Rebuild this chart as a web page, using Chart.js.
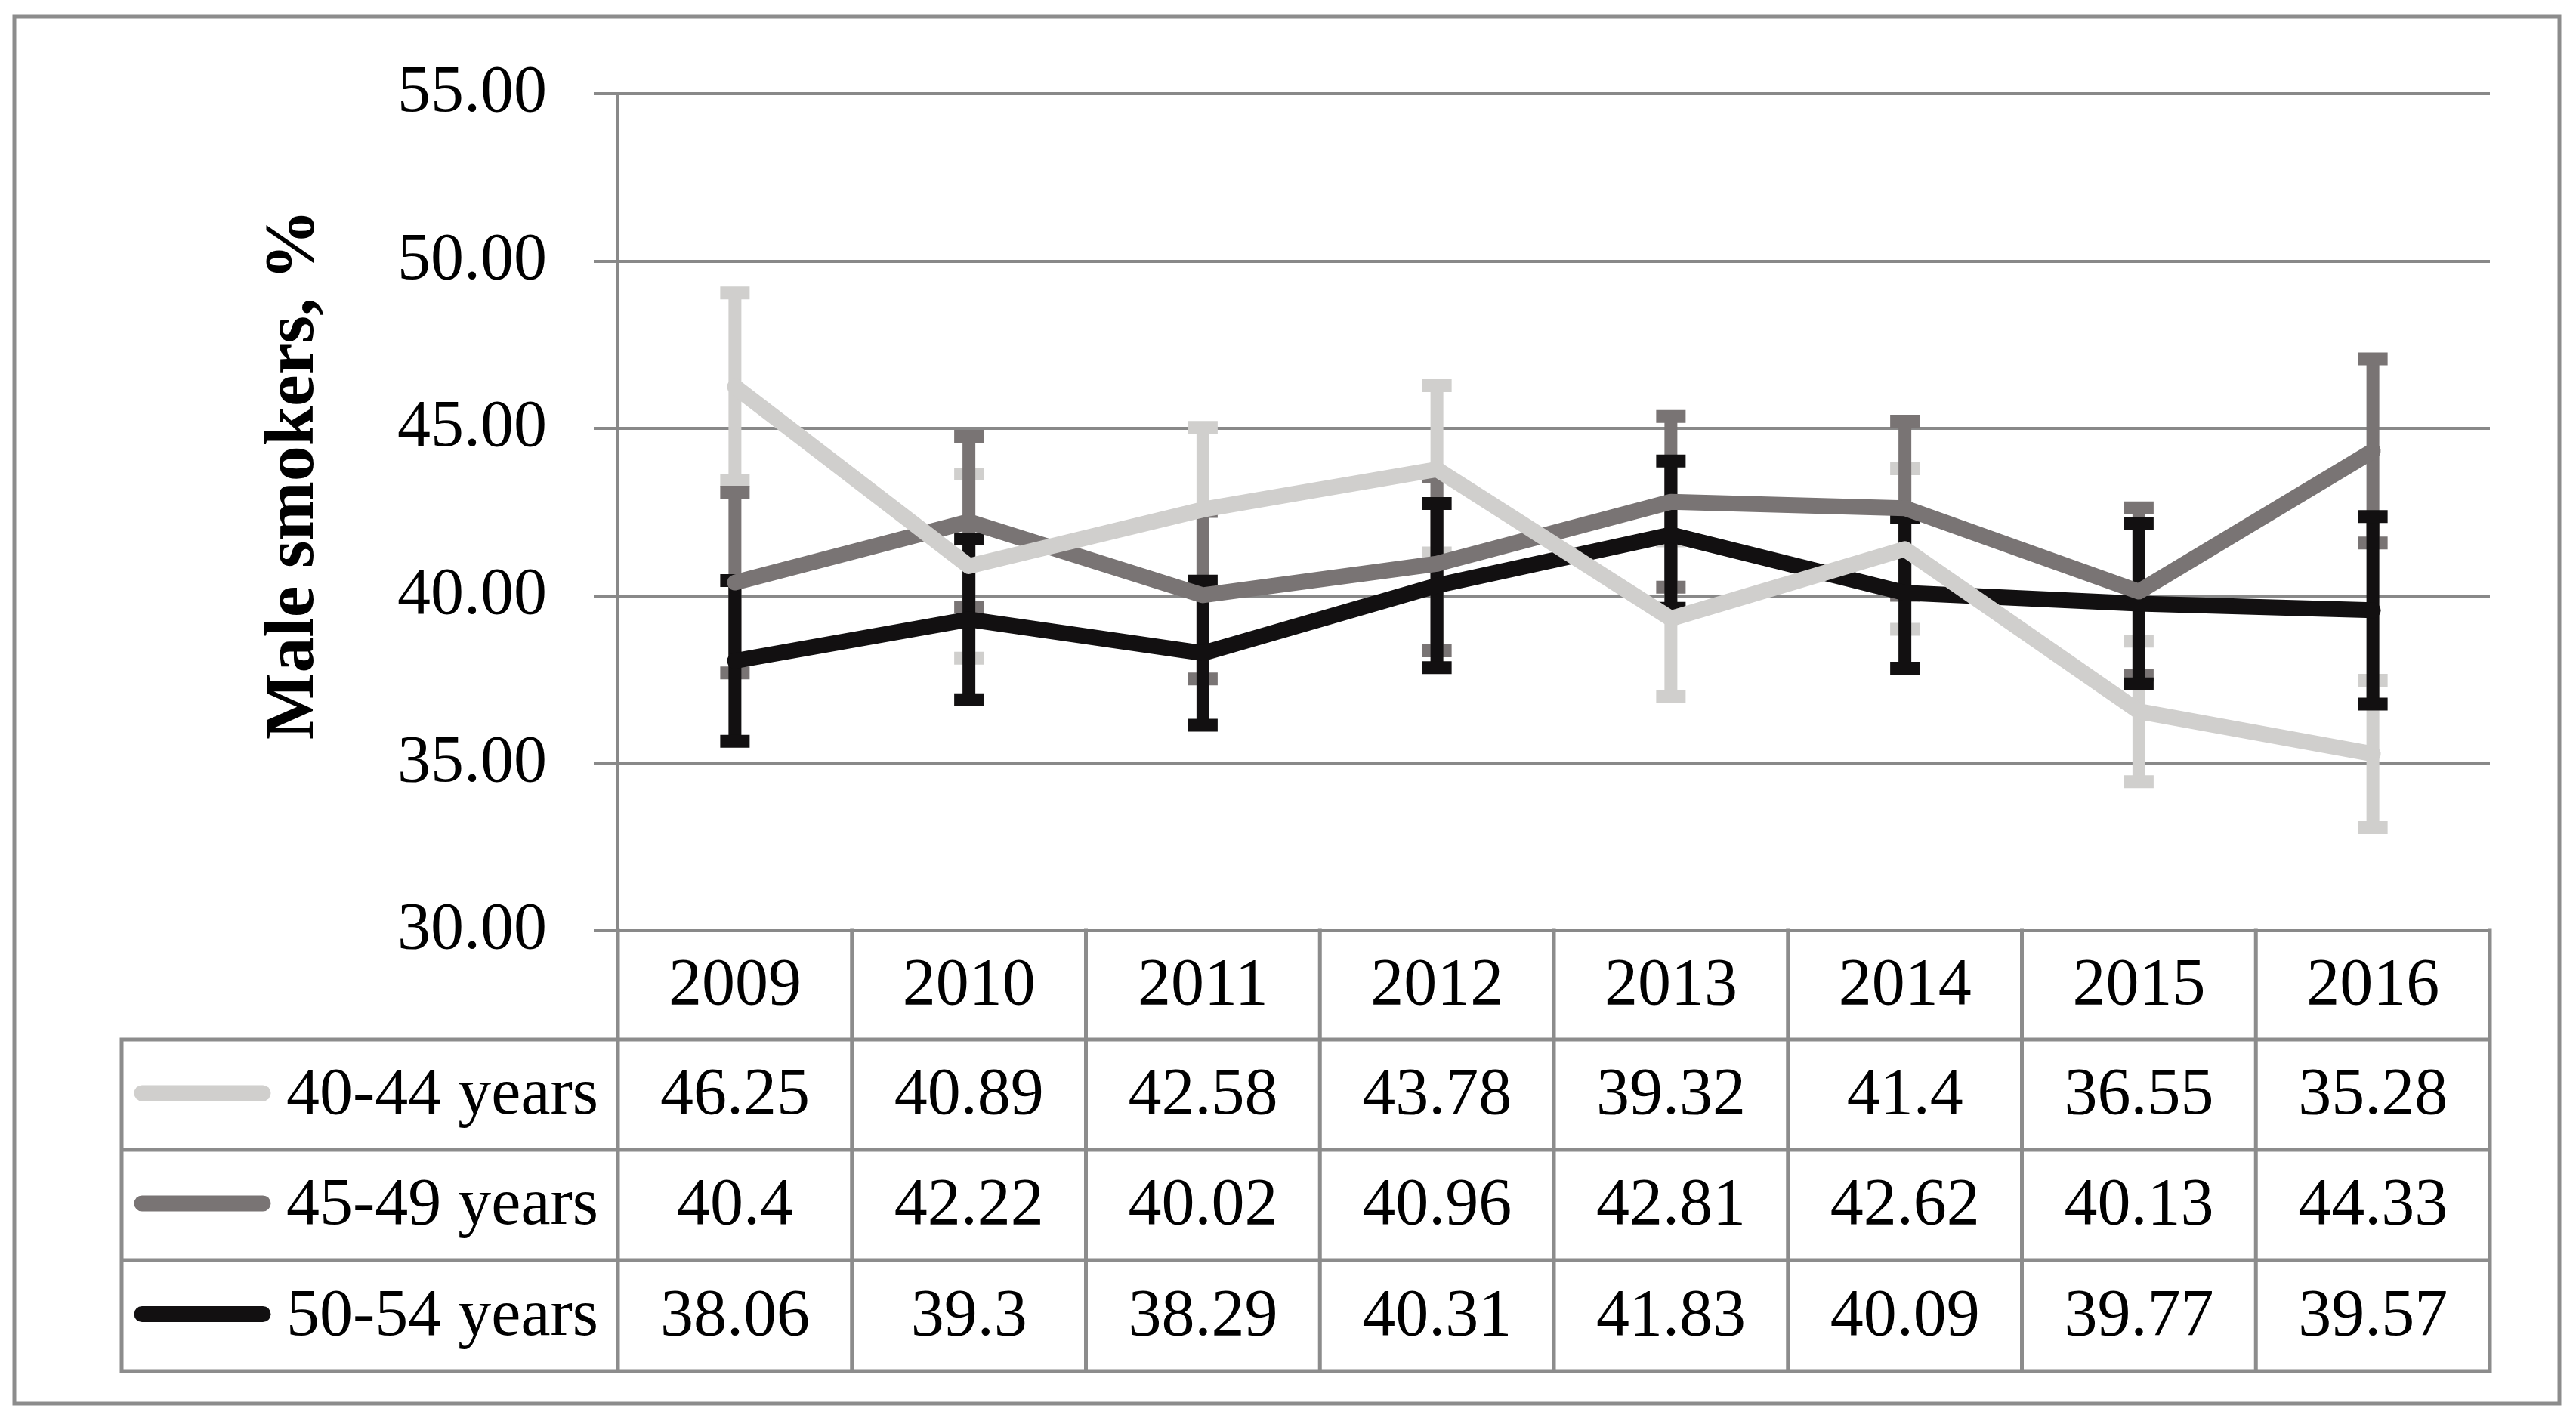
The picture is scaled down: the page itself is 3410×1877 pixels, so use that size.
<!DOCTYPE html>
<html>
<head>
<meta charset="utf-8">
<script src="https://cdn.jsdelivr.net/npm/chart.js@4/dist/chart.umd.min.js"></script>
<style>
  html, body { margin: 0; padding: 0; background: #ffffff; }
  #wrap { width: 3410px; height: 1877px; }
</style>
</head>
<body>
<div id="wrap"><canvas id="c" width="3410" height="1877"></canvas></div>
<script>
// ---- data ----
const years = ['2009', '2010', '2011', '2012', '2013', '2014', '2015', '2016'];
const seriesNames = ['40-44 years', '45-49 years', '50-54 years'];
const age4044 = [46.25, 40.89, 42.58, 43.78, 39.32, 41.4, 36.55, 35.28];
const age4549 = [40.4, 42.22, 40.02, 40.96, 42.81, 42.62, 40.13, 44.33];
const age5054 = [38.06, 39.3, 38.29, 40.31, 41.83, 40.09, 39.77, 39.57];
const err4044 = [2.8, 2.75, 2.45, 2.5, 2.32, 2.4, 2.1, 2.2];
const err4549 = [2.7, 2.55, 2.5, 2.6, 2.55, 2.6, 2.5, 2.75];
const err5054 = [2.4, 2.4, 2.15, 2.45, 2.2, 2.25, 2.4, 2.8];
const yTicks = [30, 35, 40, 45, 50, 55];
const yTitle = 'Male smokers, %';

// ---- styles ----
const colors = ['#d0cfcd', '#797474', '#121011'];
const gridColor = '#898989';
const tableLine = '#8c8c8c';
const serif = '"Liberation Serif", "Times New Roman", serif';

const errorBarPlugin = {
  id: 'errorBars',
  beforeDatasetsDraw(chart) {
    const ctx = chart.ctx;
    const xs = chart.scales.x, ys = chart.scales.y;
    ctx.save();
    chart.data.datasets.forEach((ds) => {
      ctx.strokeStyle = ds.borderColor;
      ds.errors.forEach((e, i) => {
        const x = xs.getPixelForValue(i);
        const yHi = ys.getPixelForValue(ds.data[i] + e);
        const yLo = ys.getPixelForValue(ds.data[i] - e);
        ctx.lineCap = 'butt';
        ctx.lineWidth = 17;
        ctx.beginPath();
        ctx.moveTo(x, yHi);
        ctx.lineTo(x, yLo);
        ctx.stroke();
        ctx.beginPath();
        ctx.moveTo(x - 19.5, yHi); ctx.lineTo(x + 19.5, yHi);
        ctx.moveTo(x - 19.5, yLo); ctx.lineTo(x + 19.5, yLo);
        ctx.stroke();
      });
    });
    ctx.restore();
  }
};

const tablePlugin = {
  id: 'dataTable',
  afterDraw(chart) {
    const ctx = chart.ctx;
    const ca = chart.chartArea;
    const xs = chart.scales.x;
    const colW = (ca.right - ca.left) / years.length;
    const top = ca.bottom;
    const rows = [top, top + 144, top + 290, top + 436, top + 583];
    const tableLeft = 161;
    ctx.save();
    // y title
    ctx.fillStyle = '#000';
    ctx.font = 'bold 94px ' + serif;
    ctx.textAlign = 'center';
    ctx.textBaseline = 'middle';
    ctx.translate(390, 628);
    ctx.rotate(-Math.PI / 2);
    ctx.fillText(yTitle, 0, 0);
    ctx.setTransform(1, 0, 0, 1, 0, 0);

    // table lines
    ctx.strokeStyle = tableLine;
    ctx.lineWidth = 5;
    ctx.lineCap = 'square';
    ctx.beginPath();
    for (let i = 0; i <= years.length; i++) {
      const x = ca.left + i * colW;
      ctx.moveTo(x, top); ctx.lineTo(x, rows[4]);
    }
    for (let r = 1; r < rows.length; r++) {
      ctx.moveTo(tableLeft, rows[r]); ctx.lineTo(ca.right, rows[r]);
    }
    ctx.moveTo(tableLeft, rows[1]); ctx.lineTo(tableLeft, rows[4]);
    ctx.stroke();

    // outer border
    ctx.lineWidth = 5;
    ctx.strokeRect(19, 22, 3369, 1836);

    // header text
    ctx.fillStyle = '#000';
    ctx.font = '88px ' + serif;
    ctx.textAlign = 'center';
    ctx.textBaseline = 'middle';
    years.forEach((y, i) => {
      ctx.fillText(y, xs.getPixelForValue(i), (rows[0] + rows[1]) / 2 + 2);
    });
    // rows
    const datas = [age4044, age4549, age5054];
    datas.forEach((d, r) => {
      const cy = (rows[r + 1] + rows[r + 2]) / 2;
      ctx.textAlign = 'center';
      d.forEach((v, i) => {
        ctx.fillText(String(v), xs.getPixelForValue(i), cy + 2);
      });
      ctx.textAlign = 'right';
      ctx.fillText(seriesNames[r], 792, cy + 2);
      ctx.strokeStyle = colors[r];
      ctx.lineWidth = 21;
      ctx.lineCap = 'round';
      ctx.beginPath();
      ctx.moveTo(188, cy - 2); ctx.lineTo(348, cy - 2);
      ctx.stroke();
    });
    ctx.restore();
  }
};

new Chart(document.getElementById('c'), {
  type: 'line',
  data: {
    labels: years,
    datasets: [
      { label: seriesNames[0], data: age4044, errors: err4044, borderColor: colors[0] },
      { label: seriesNames[1], data: age4549, errors: err4549, borderColor: colors[1] },
      { label: seriesNames[2], data: age5054, errors: err5054, borderColor: colors[2] }
    ].map(d => Object.assign(d, {
      borderWidth: 21, pointRadius: 0, pointHoverRadius: 0, tension: 0,
      borderJoinStyle: 'round', borderCapStyle: 'round', fill: false
    }))
  },
  options: {
    responsive: false,
    devicePixelRatio: 1,
    animation: false,
    events: [],
    layout: { padding: { left: 0, top: 124, right: 114, bottom: 645 } },
    plugins: { legend: { display: false }, tooltip: { enabled: false } },
    scales: {
      x: { display: false, offset: true },
      y: {
        min: 30, max: 55,
        afterFit(scale) { scale.width = 818; },
        afterBuildTicks(scale) { scale.ticks = yTicks.map(v => ({ value: v })); },
        ticks: {
          padding: 62,
          color: '#000',
          font: { family: serif, size: 88 },
          callback: v => Number(v).toFixed(2)
        },
        grid: { color: gridColor, lineWidth: 4, tickLength: 32, drawTicks: true },
        border: { display: true, color: gridColor, width: 4 }
      }
    }
  },
  plugins: [errorBarPlugin, tablePlugin]
});
</script>
</body>
</html>
